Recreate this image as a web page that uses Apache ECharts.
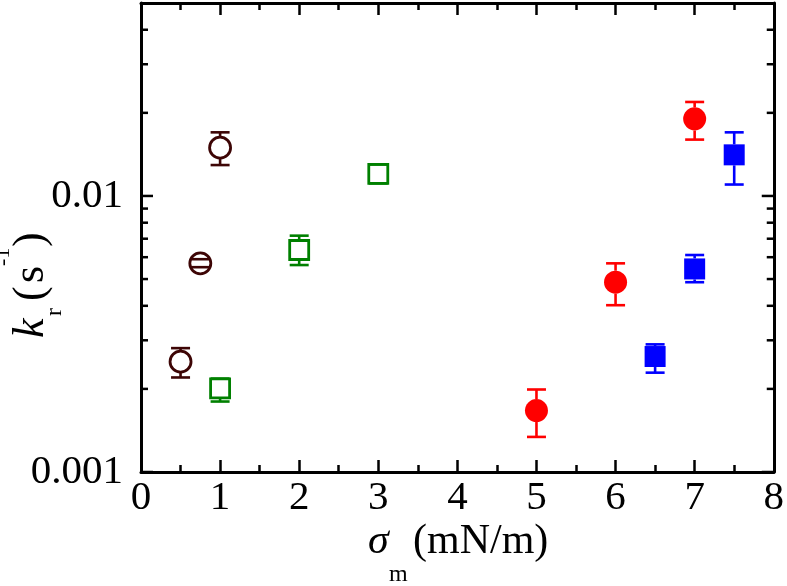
<!DOCTYPE html>
<html>
<head>
<meta charset="utf-8">
<script src="https://cdn.jsdelivr.net/npm/echarts@6/dist/echarts.min.js"></script>
<style>
  html, body { margin: 0; padding: 0; background: #fff; }
  #chart { width: 787px; height: 586px; }
</style>
</head>
<body>
<div id="chart"></div>
<script>
// data: x = sigma_m (mN/m), y = k_r (1/s), low/high = error bar ends
const maroonX = [0.5, 0.75, 1.0];
const maroonY = [0.00251, 0.00570, 0.01496];
const maroonLow = [0.00220, 0.00552, 0.01294];
const maroonHigh = [0.00281, 0.00590, 0.0170];

const greenX = [1.0, 2.0, 3.0];
const greenY = [0.00201, 0.00637, 0.01202];
const greenLow = [0.00180, 0.00562, 0.0111];
const greenHigh = [0.00218, 0.00718, 0.0130];

const redX = [5.0, 6.0, 7.0];
const redY = [0.00167, 0.00487, 0.01902];
const redLow = [0.00134, 0.00402, 0.0160];
const redHigh = [0.00199, 0.00570, 0.0219];

const blueX = [6.5, 7.0, 7.5];
const blueY = [0.00262, 0.00544, 0.01409];
const blueLow = [0.00229, 0.00487, 0.0110];
const blueHigh = [0.00290, 0.00611, 0.0170];

const xTicks = [0, 1, 2, 3, 4, 5, 6, 7, 8];
const yLabels = [0.001, 0.01];
const yMajorTicks = [0.001, 0.01];
const yMinorTicks = [0.002, 0.003, 0.004, 0.005, 0.006, 0.007, 0.008, 0.009, 0.02, 0.03, 0.04];

const FONT = '"Liberation Serif", "Times New Roman", serif';

const chart = echarts.init(document.getElementById('chart'));

const points = (xs, ys) => xs.map((x, i) => [x, ys[i]]);
const bars = (xs, ys, lo, hi) => xs.map((x, i) => [x, ys[i], lo[i], hi[i]]);

// error bar: stem starts at the marker edge, caps at both ends
const errorBar = (color, half) => (params, api) => {
  const c = api.coord([api.value(0), api.value(1)]);
  const lo = api.coord([api.value(0), api.value(2)]);
  const hi = api.coord([api.value(0), api.value(3)]);
  const cap = 9.5;
  const style = { stroke: color, lineWidth: 2.6 };
  const children = [
    { type: 'line', shape: { x1: c[0] - cap, y1: hi[1], x2: c[0] + cap, y2: hi[1] }, style },
    { type: 'line', shape: { x1: c[0] - cap, y1: lo[1], x2: c[0] + cap, y2: lo[1] }, style }
  ];
  if (hi[1] < c[1] - half) {
    children.push({ type: 'line', shape: { x1: c[0], y1: hi[1], x2: c[0], y2: c[1] - half }, style });
  }
  if (lo[1] > c[1] + half) {
    children.push({ type: 'line', shape: { x1: c[0], y1: c[1] + half, x2: c[0], y2: lo[1] }, style });
  }
  return { type: 'group', children };
};

// inward ticks on the left and right log axes
const yTickRender = (params, api) => {
  const v = api.value(1);
  const major = yMajorTicks.indexOf(v) >= 0;
  const len = major ? 12 : 7;
  const l = api.coord([0, v]);
  const r = api.coord([8, v]);
  const style = { stroke: '#000', lineWidth: 2.5 };
  return {
    type: 'group',
    children: [
      { type: 'line', shape: { x1: l[0], y1: l[1], x2: l[0] + len, y2: l[1] }, style },
      { type: 'line', shape: { x1: r[0] - len, y1: r[1], x2: r[0], y2: r[1] }, style }
    ]
  };
};

const scatter = (xs, ys, symbol, size, color, open) => ({
  type: 'scatter',
  symbol,
  symbolSize: size,
  z: 3,
  itemStyle: open
    ? { color: '#fff', borderColor: color, borderWidth: 2.8, opacity: 1 }
    : { color, opacity: 1 },
  data: points(xs, ys)
});

const errSeries = (xs, ys, lo, hi, color, half) => ({
  type: 'custom',
  renderItem: errorBar(color, half),
  clip: false,
  z: 4,
  data: bars(xs, ys, lo, hi)
});

const xAxisBase = {
  type: 'value',
  min: 0,
  max: 8,
  interval: 1,
  splitLine: { show: false },
  axisLine: { show: true, onZero: false, lineStyle: { color: '#000', width: 3 } },
  axisTick: { show: true, inside: true, length: 12, lineStyle: { color: '#000', width: 2.5 } },
  minorTick: { show: true, splitNumber: 2, length: 7, lineStyle: { color: '#000', width: 2.5 } }
};

const option = {
  animation: false,
  backgroundColor: '#fff',
  grid: { left: 141, right: 11, top: 3, bottom: 114 },
  xAxis: [
    Object.assign({}, xAxisBase, {
      position: 'bottom',
      axisLabel: {
        margin: 6,
        color: '#000',
        fontFamily: FONT,
        fontSize: 41,
        formatter: (v) => (xTicks.indexOf(v) >= 0 ? String(v) : '')
      }
    }),
    Object.assign({}, xAxisBase, {
      position: 'top',
      axisLabel: { show: false }
    })
  ],
  yAxis: [
    {
      type: 'log',
      logBase: 10,
      min: 0.001,
      max: 0.05,
      position: 'left',
      splitLine: { show: false },
      axisLine: { show: true, onZero: false, lineStyle: { color: '#000', width: 3 } },
      axisTick: { show: false },
      axisLabel: {
        margin: 18,
        color: '#000',
        fontFamily: FONT,
        fontSize: 41,
        formatter: (v) => {
          const hit = yLabels.find((t) => Math.abs(v - t) / t < 1e-6);
          return hit ? String(hit) : '';
        }
      }
    },
    {
      type: 'log',
      logBase: 10,
      min: 0.001,
      max: 0.05,
      position: 'right',
      splitLine: { show: false },
      axisLine: { show: true, onZero: false, lineStyle: { color: '#000', width: 3 } },
      axisTick: { show: false },
      axisLabel: { show: false }
    }
  ],
  series: [
    {
      type: 'custom',
      renderItem: yTickRender,
      clip: false,
      z: 5,
      data: yMajorTicks.concat(yMinorTicks).map((v) => [0, v])
    },
    scatter(maroonX, maroonY, 'circle', 21, '#3d0505', true),
    errSeries(maroonX, maroonY, maroonLow, maroonHigh, '#3d0505', 10.5),
    scatter(greenX, greenY, 'rect', 19, '#008000', true),
    errSeries(greenX, greenY, greenLow, greenHigh, '#008000', 9.5),
    scatter(redX, redY, 'circle', 23, '#ff0000', false),
    errSeries(redX, redY, redLow, redHigh, '#ff0000', 11.5),
    scatter(blueX, blueY, 'rect', 21, '#0000ff', false),
    errSeries(blueX, blueY, blueLow, blueHigh, '#0000ff', 10.5)
  ],
  graphic: [
    // x axis title: sigma_m (mN/m)
    {
      type: 'group',
      children: [
        { type: 'text', x: 368, y: 542, style: { text: 'σ', font: 'italic 42px ' + FONT, fill: '#000', verticalAlign: 'middle' } },
        { type: 'text', x: 389, y: 575, style: { text: 'm', font: '24px ' + FONT, fill: '#000', verticalAlign: 'middle' } },
        { type: 'text', x: 413, y: 542, style: { text: '(mN/m)', font: '42px ' + FONT, fill: '#000', verticalAlign: 'middle' } }
      ]
    },
    // y axis title: k_r (s^-1), rotated
    {
      type: 'group',
      x: 46,
      y: 338,
      rotation: Math.PI / 2,
      children: [
        { type: 'text', x: 0, y: -15, style: { text: 'k', font: 'italic 44px ' + FONT, fill: '#000', verticalAlign: 'middle' } },
        { type: 'text', x: 22, y: 9, style: { text: 'r', font: '24px ' + FONT, fill: '#000', verticalAlign: 'middle' } },
        { type: 'text', x: 37, y: -15, style: { text: '(', font: '44px ' + FONT, fill: '#000', verticalAlign: 'middle' } },
        { type: 'text', x: 55, y: -15, style: { text: 's', font: '44px ' + FONT, fill: '#000', verticalAlign: 'middle' } },
        { type: 'text', x: 72, y: -43, style: { text: '-1', font: '22px ' + FONT, fill: '#000', verticalAlign: 'middle' } },
        { type: 'text', x: 91, y: -15, style: { text: ')', font: '44px ' + FONT, fill: '#000', verticalAlign: 'middle' } }
      ]
    }
  ]
};

chart.setOption(option);
</script>
</body>
</html>
